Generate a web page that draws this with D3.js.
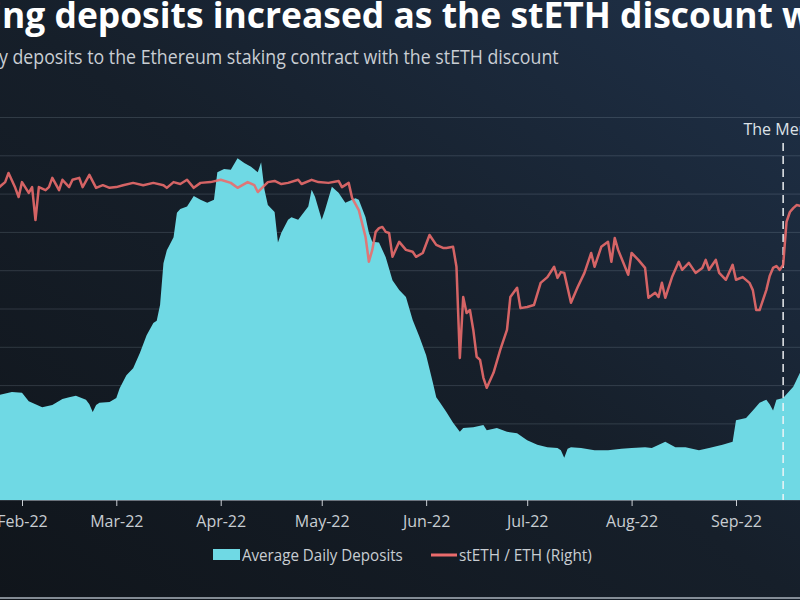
<!DOCTYPE html>
<html>
<head>
<meta charset="utf-8">
<script src="https://cdn.jsdelivr.net/npm/d3@7"></script>
<style>
  html, body { margin: 0; padding: 0; background: #141b24; }
  svg { display: block; }
</style>
</head>
<body>
<svg id="chart" width="800" height="600"></svg>
<script>
// ---------- DATA ----------
const titleText = "Staking deposits increased as the stETH discount widened";
const subtitleText = "Average daily deposits to the Ethereum staking contract with the stETH discount";
const mergeLabel = "The Merge";
const mergeDate = "2022-09-15";
const seriesNames = ["Average Daily Deposits", "stETH / ETH (Right)"];

const depositDates = ["2022-01-24","2022-01-25","2022-01-29","2022-02-01","2022-02-03","2022-02-04","2022-02-07","2022-02-10","2022-02-13","2022-02-15","2022-02-17","2022-02-20","2022-02-21","2022-02-22","2022-02-23","2022-02-24","2022-02-27","2022-03-01","2022-03-02","2022-03-04","2022-03-06","2022-03-08","2022-03-10","2022-03-12","2022-03-13","2022-03-14","2022-03-15","2022-03-16","2022-03-18","2022-03-19","2022-03-20","2022-03-22","2022-03-24","2022-03-26","2022-03-28","2022-03-30","2022-03-31","2022-04-02","2022-04-04","2022-04-06","2022-04-08","2022-04-10","2022-04-12","2022-04-13","2022-04-14","2022-04-15","2022-04-17","2022-04-18","2022-04-19","2022-04-21","2022-04-22","2022-04-24","2022-04-27","2022-04-28","2022-04-29","2022-05-01","2022-05-02","2022-05-04","2022-05-06","2022-05-08","2022-05-11","2022-05-12","2022-05-14","2022-05-15","2022-05-16","2022-05-18","2022-05-20","2022-05-22","2022-05-24","2022-05-26","2022-05-28","2022-05-30","2022-06-01","2022-06-03","2022-06-04","2022-06-05","2022-06-07","2022-06-09","2022-06-11","2022-06-12","2022-06-15","2022-06-18","2022-06-19","2022-06-22","2022-06-25","2022-06-28","2022-07-01","2022-07-04","2022-07-07","2022-07-10","2022-07-11","2022-07-12","2022-07-13","2022-07-14","2022-07-17","2022-07-21","2022-07-25","2022-07-29","2022-08-01","2022-08-05","2022-08-07","2022-08-11","2022-08-14","2022-08-17","2022-08-21","2022-08-24","2022-08-28","2022-08-31","2022-09-01","2022-09-04","2022-09-06","2022-09-08","2022-09-10","2022-09-11","2022-09-12","2022-09-13","2022-09-15","2022-09-18","2022-09-20","2022-09-22"];
const depositValues = [13700,13700,14100,14000,12900,12700,12100,12400,13200,13400,13600,13100,12500,11500,12400,12700,12800,13300,14600,16300,17200,19200,21500,23100,23400,25500,30900,32600,34300,37500,38000,38300,39700,39200,38800,39200,42800,43200,43100,44600,44000,43500,42800,44100,40500,38500,37600,33600,34900,36600,36900,36600,38300,40500,39600,36600,37900,40900,40100,38800,39400,39200,36900,34900,33700,33600,31700,28700,27400,26500,23500,21300,18900,15300,13400,12800,11500,10100,8900,9400,9500,9800,9100,9400,8900,8700,7800,7200,6900,6800,6500,5500,6700,6900,6800,6500,6500,6700,6800,6900,6800,7600,6900,6900,6500,6800,7200,7600,10400,10700,11700,12700,13100,12500,11700,13100,13300,14800,16600,18300];

const pegDates = ["2022-01-24","2022-01-25","2022-01-27","2022-01-28","2022-01-30","2022-01-31","2022-02-01","2022-02-03","2022-02-04","2022-02-05","2022-02-06","2022-02-08","2022-02-09","2022-02-10","2022-02-12","2022-02-13","2022-02-15","2022-02-16","2022-02-18","2022-02-19","2022-02-21","2022-02-23","2022-02-25","2022-02-27","2022-03-01","2022-03-03","2022-03-06","2022-03-09","2022-03-12","2022-03-15","2022-03-16","2022-03-18","2022-03-20","2022-03-22","2022-03-24","2022-03-26","2022-03-29","2022-04-01","2022-04-04","2022-04-06","2022-04-09","2022-04-11","2022-04-12","2022-04-15","2022-04-17","2022-04-19","2022-04-21","2022-04-24","2022-04-25","2022-04-28","2022-04-30","2022-05-03","2022-05-06","2022-05-07","2022-05-09","2022-05-10","2022-05-12","2022-05-14","2022-05-15","2022-05-16","2022-05-17","2022-05-18","2022-05-19","2022-05-20","2022-05-21","2022-05-22","2022-05-24","2022-05-26","2022-05-28","2022-05-29","2022-05-31","2022-06-02","2022-06-04","2022-06-06","2022-06-07","2022-06-09","2022-06-10","2022-06-11","2022-06-12","2022-06-13","2022-06-14","2022-06-15","2022-06-16","2022-06-17","2022-06-18","2022-06-19","2022-06-21","2022-06-23","2022-06-25","2022-06-26","2022-06-28","2022-06-29","2022-07-01","2022-07-03","2022-07-05","2022-07-07","2022-07-09","2022-07-10","2022-07-11","2022-07-12","2022-07-14","2022-07-16","2022-07-18","2022-07-20","2022-07-21","2022-07-23","2022-07-25","2022-07-26","2022-07-27","2022-07-28","2022-07-31","2022-08-01","2022-08-03","2022-08-05","2022-08-06","2022-08-08","2022-08-09","2022-08-10","2022-08-11","2022-08-13","2022-08-15","2022-08-16","2022-08-18","2022-08-20","2022-08-22","2022-08-23","2022-08-24","2022-08-26","2022-08-27","2022-08-29","2022-08-31","2022-09-01","2022-09-03","2022-09-05","2022-09-06","2022-09-07","2022-09-08","2022-09-09","2022-09-10","2022-09-11","2022-09-12","2022-09-13","2022-09-14","2022-09-15","2022-09-16","2022-09-17","2022-09-18","2022-09-19","2022-09-20","2022-09-21"];
const pegValues = [0.9915,0.9915,0.9930,0.9954,0.9915,0.9891,0.9930,0.9902,0.9917,0.9831,0.9917,0.9909,0.9917,0.9941,0.9909,0.9936,0.9917,0.9936,0.9941,0.9917,0.9949,0.9915,0.9922,0.9915,0.9917,0.9922,0.9928,0.9922,0.9928,0.9922,0.9915,0.9930,0.9925,0.9936,0.9915,0.9928,0.9930,0.9936,0.9928,0.9915,0.9930,0.9922,0.9904,0.9930,0.9933,0.9925,0.9928,0.9936,0.9925,0.9936,0.9930,0.9928,0.9933,0.9917,0.9928,0.9889,0.9857,0.9787,0.9722,0.9753,0.9800,0.9810,0.9813,0.9800,0.9797,0.9735,0.9774,0.9753,0.9748,0.9735,0.9745,0.9792,0.9766,0.9758,0.9758,0.9761,0.9709,0.9471,0.9630,0.9588,0.9596,0.9544,0.9474,0.9466,0.9419,0.9393,0.9432,0.9492,0.9544,0.9630,0.9654,0.9601,0.9604,0.9609,0.9667,0.9682,0.9709,0.9680,0.9695,0.9693,0.9615,0.9656,0.9693,0.9745,0.9709,0.9761,0.9774,0.9722,0.9784,0.9753,0.9688,0.9745,0.9727,0.9706,0.9628,0.9641,0.9630,0.9667,0.9628,0.9682,0.9722,0.9701,0.9719,0.9693,0.9706,0.9727,0.9701,0.9727,0.9693,0.9675,0.9714,0.9675,0.9682,0.9667,0.9648,0.9596,0.9596,0.9622,0.9648,0.9685,0.9706,0.9711,0.9701,0.9714,0.9826,0.9852,0.9862,0.9870,0.9868,0.9865];

const leftTicks = [0,5000,10000,15000,20000,25000,30000,35000,40000,45000,50000];
const rightTicks = [0.91,0.92,0.93,0.94,0.95,0.96,0.97,0.98,0.99,1.00,1.01];
const monthTicks = ["2022-02-01","2022-03-01","2022-04-01","2022-05-01","2022-06-01","2022-07-01","2022-08-01","2022-09-01"];

// ---------- SETUP ----------
const W = 800, H = 600;
const parse = d3.utcParse("%Y-%m-%d");
const svg = d3.select("#chart");

const defs = svg.append("defs");
const bg = defs.append("linearGradient").attr("id","bg")
  .attr("x1","0%").attr("y1","100%").attr("x2","100%").attr("y2","0%");
bg.append("stop").attr("offset","0%").attr("stop-color","#10151b");
bg.append("stop").attr("offset","50%").attr("stop-color","#161f2a");
bg.append("stop").attr("offset","100%").attr("stop-color","#1f3149");
svg.append("rect").attr("width",W).attr("height",H).attr("fill","url(#bg)");

const x = d3.scaleUtc().domain([parse("2022-02-01"), parse("2022-09-01")]).range([22, 736]);
const yL = d3.scaleLinear().domain([0, 50000]).range([500, 117]);
const yR = d3.scaleLinear().domain([0.91, 1.01]).range([500, 117]);

// gridlines
svg.append("g").selectAll("line").data(leftTicks).join("line")
  .attr("x1", 0).attr("x2", W)
  .attr("y1", d => yL(d) + 0.5).attr("y2", d => yL(d) + 0.5)
  .attr("stroke", "rgba(200,215,230,0.16)").attr("stroke-width", 1);

// area
const deposits = depositDates.map((d,i) => ({date: parse(d), v: depositValues[i]}));
svg.append("path").datum(deposits)
  .attr("fill", "#6fd9e4")
  .attr("d", d3.area().x(d => x(d.date)).y0(yL(0)).y1(d => yL(d.v)));

// merge line
const mx = x(parse(mergeDate));
svg.append("line").attr("x1", mx).attr("x2", mx).attr("y1", 143).attr("y2", 500)
  .attr("stroke", "#f2f4f6").attr("stroke-width", 1.6).attr("stroke-dasharray", "8,5").attr("opacity", 0.9);
svg.append("text").attr("x", mx).attr("y", 135).attr("text-anchor","middle")
  .attr("font-family","Open Sans").attr("font-size", 16).attr("fill","#dde2e7").text(mergeLabel);

// line
const peg = pegDates.map((d,i) => ({date: parse(d), v: pegValues[i]}));
svg.append("path").datum(peg)
  .attr("fill","none").attr("stroke","#ea6b6c").attr("stroke-width",2.5)
  .attr("stroke-linejoin","round").attr("opacity",0.9)
  .attr("d", d3.line().x(d => x(d.date)).y(d => yR(d.v)));

// x axis
const xAxis = svg.append("g").attr("transform","translate(0,500)")
  .call(d3.axisBottom(x).tickValues(monthTicks.map(parse)).tickFormat(d3.utcFormat("%b-%y")).tickSize(6).tickPadding(10));
xAxis.select(".domain").attr("stroke","rgba(220,230,240,0.35)");
xAxis.selectAll(".tick line").attr("stroke","#c9ced4");
xAxis.selectAll(".tick text").attr("font-family","Open Sans").attr("font-size",16).attr("fill","#c8cdd2");

// title
function fitText(sel, startChar, endChar, targetStart, targetEnd) {
  const n = sel.node();
  const s = n.getStartPositionOfChar(startChar).x;
  const e = n.getEndPositionOfChar(endChar).x;
  const k = (targetEnd - targetStart) / (e - s);
  return {k, s};
}
const title = svg.append("text").attr("y", 28)
  .attr("font-family","Open Sans").attr("font-weight",700).attr("font-size",31)
  .attr("fill","#ffffff").text(titleText);
{
  const i0 = titleText.indexOf("ng deposits");
  const i1 = titleText.indexOf("discount") + 7;
  const f = fitText(title, i0, i1, 2, 773);
  title.attr("font-size", 31 * f.k);
  const s2 = title.node().getStartPositionOfChar(i0).x;
  title.attr("x", 2 - s2);
}
const sub = svg.append("text").attr("y", 0)
  .attr("font-family","Open Sans").attr("font-size",20)
  .attr("fill","#c9ced4").text(subtitleText);
{
  const i0 = subtitleText.indexOf("y deposits");
  const i1 = subtitleText.length - 1;
  const f = fitText(sub, i0, i1, -1, 559);
  sub.attr("transform", `translate(${-1 - f.s * f.k},64) scale(${f.k},1)`);
}

// legend
const lg = svg.append("g");
lg.append("rect").attr("x",213).attr("y",549).attr("width",27).attr("height",11).attr("fill","#6fd9e4");
const t1 = lg.append("text").attr("y",0).attr("font-family","Open Sans").attr("font-size",17).attr("fill","#c8cdd2").text(seriesNames[0]);
{ const w = t1.node().getComputedTextLength(); t1.attr("transform",`translate(242,561) scale(${161/w},1)`); }
lg.append("line").attr("x1",431).attr("x2",457).attr("y1",555).attr("y2",555).attr("stroke","#ea6b6c").attr("stroke-width",3);
const t2 = lg.append("text").attr("y",0).attr("font-family","Open Sans").attr("font-size",17).attr("fill","#c8cdd2").text(seriesNames[1]);
{ const w = t2.node().getComputedTextLength(); t2.attr("transform",`translate(459,561) scale(${133/w},1)`); }

// bottom border
svg.append("line").attr("x1",0).attr("x2",W).attr("y1",598).attr("y2",598).attr("stroke","#aab3bc").attr("stroke-width",1.5);
</script>
</body>
</html>
